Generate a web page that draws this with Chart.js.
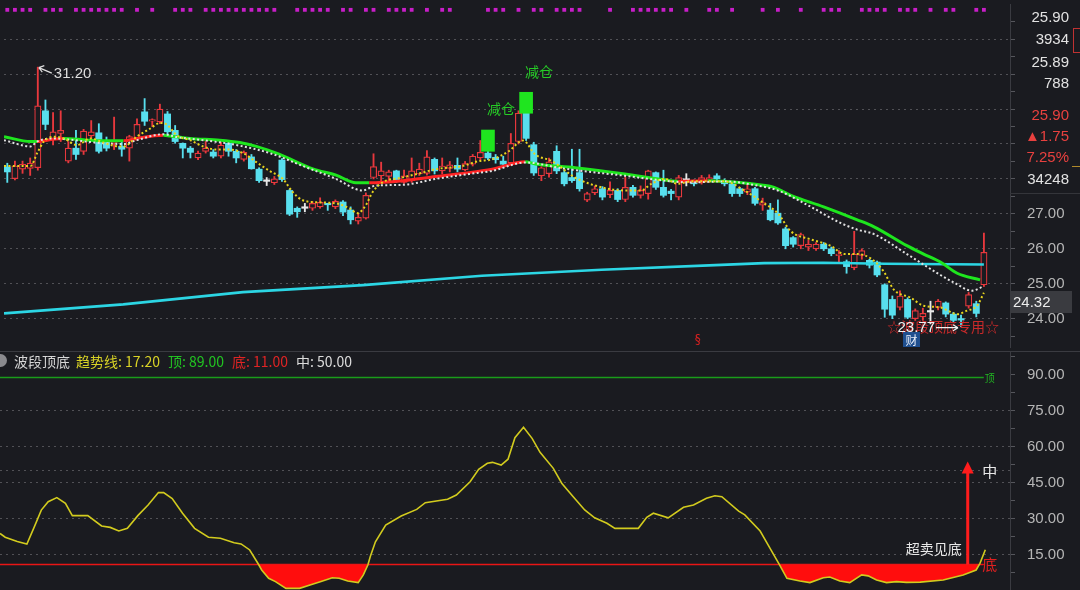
<!DOCTYPE html>
<html lang="zh-CN">
<head>
<meta charset="utf-8">
<title>波段顶底</title>
<script src="https://cdn.jsdelivr.net/npm/chart.js@4.4.1/dist/chart.umd.min.js"></script>
<style>
  html, body { margin:0; padding:0; background:#1a1b20; overflow:hidden; }
  #stage { position:relative; width:1080px; height:590px; overflow:hidden; background:#1a1b20; }
  #cTop { position:absolute; left:0; top:0; }
  #cBot { position:absolute; left:0; top:352px; }
  .t { position:absolute; white-space:nowrap; line-height:16px; }
  .num { font-family:"Liberation Sans", Arial, sans-serif; font-size:15px; }
  .cjk { font-family:"Noto Sans CJK SC", "Noto Sans", sans-serif; font-size:14px; }
</style>
</head>
<body>
<div id="stage">
  <canvas id="cTop" width="1080" height="351"></canvas>
  <canvas id="cBot" width="1080" height="239"></canvas>
  <div style="position:absolute;left:0;top:351px;width:1080px;height:1px;background:#3a3b41"></div>
  <div style="position:absolute;left:1010px;top:193px;width:70px;height:1px;background:#34353a"></div>
  <div style="position:absolute;left:1073px;top:28px;width:14px;height:23px;border:1px solid #c03232"></div>
  <div style="position:absolute;left:1072px;top:166px;width:8px;height:1px;background:#b08a2a"></div>
  <div id="info"></div>
  <div id="lastBox" class="t num" style="left:1010px;top:291px;width:62px;height:22px;line-height:22px;background:#3a3b40;color:#ececec;padding-left:3px;box-sizing:border-box"></div>
  <div id="legend"></div>
</div>
<script>
// ---------------- data ----------------
const openP = [28.34,28.01,28.28,28.30,28.32,29.95,29.11,29.30,28.51,28.88,
 28.79,29.23,29.32,29.07,29.02,28.93,28.88,29.16,29.92,29.65,
 29.63,29.86,29.39,29.02,28.88,28.60,28.79,28.77,28.65,29.02,
 28.79,28.56,28.63,28.28,27.94,27.89,28.54,27.67,27.16,27.17,
 27.16,27.20,27.28,27.20,27.34,27.11,26.79,26.88,28.04,28.09,
 28.07,28.23,27.90,27.95,28.14,28.16,28.56,28.23,28.30,28.39,
 28.26,28.42,28.60,28.74,28.62,28.51,28.46,29.07,29.88,28.98,
 28.09,28.15,28.79,28.18,28.04,28.18,27.39,27.60,27.72,27.55,
 27.67,27.41,27.76,27.53,27.58,28.18,27.76,27.65,27.48,27.97,
 27.90,27.90,27.95,28.09,27.93,27.86,27.72,27.62,27.72,27.25,
 27.11,27.02,26.57,26.32,26.09,26.05,26.00,26.13,26.00,25.80,
 25.63,25.46,25.81,25.67,25.62,24.97,24.55,24.32,24.55,24.00,
 24.05,24.20,24.32,24.45,24.13,23.98,24.36,24.43,24.97];
const highP = [28.45,28.51,28.51,28.60,31.20,30.26,29.90,29.95,29.07,29.39,
 29.42,29.67,29.58,29.20,29.77,29.07,29.25,29.72,30.30,29.72,
 30.14,29.93,29.53,29.03,28.93,28.80,29.07,28.84,29.07,29.07,
 28.84,28.80,28.70,28.32,28.04,28.07,28.58,27.70,27.20,27.30,
 27.35,27.46,27.30,27.40,27.38,27.20,27.02,27.60,28.72,28.48,
 28.25,28.25,28.25,28.60,28.45,28.81,28.60,28.60,28.50,28.60,
 28.50,28.70,29.10,28.80,28.70,28.65,29.30,29.95,29.88,29.05,
 28.35,28.60,28.95,28.25,28.85,28.85,27.62,27.80,27.78,27.92,
 27.72,28.05,27.82,27.80,28.25,28.20,28.25,27.70,28.10,28.15,
 27.97,28.10,28.12,28.15,28.00,27.90,27.76,27.85,27.76,27.45,
 27.30,27.40,26.62,26.35,26.45,26.25,26.18,26.18,26.05,25.95,
 25.68,26.50,26.00,25.70,25.65,25.00,24.65,24.80,24.60,24.28,
 24.30,24.50,24.55,24.48,24.18,24.10,24.75,24.50,26.45];
const lowP = [27.90,27.97,28.16,28.10,28.25,29.41,28.97,29.07,28.46,28.56,
 28.70,29.11,28.74,28.80,28.84,28.65,28.51,29.11,29.53,29.50,
 29.58,29.25,29.02,28.60,28.60,28.55,28.74,28.60,28.60,28.65,
 28.46,28.51,28.28,27.90,27.81,27.84,27.93,26.95,26.90,27.06,
 27.10,27.16,27.10,27.15,26.95,26.71,26.71,26.85,28.00,27.95,
 27.90,27.90,27.87,27.90,28.10,28.11,28.14,28.14,28.20,28.20,
 28.23,28.37,28.55,28.55,28.45,28.35,28.40,29.00,29.10,28.10,
 27.95,28.05,28.15,27.80,27.90,27.65,27.35,27.55,27.40,27.46,
 27.35,27.35,27.48,27.45,27.42,27.70,27.48,27.40,27.40,27.80,
 27.80,27.85,27.90,27.95,27.80,27.50,27.50,27.55,27.25,27.10,
 26.80,26.70,26.00,26.05,26.00,25.95,25.95,25.95,25.80,25.60,
 25.30,25.40,25.70,25.45,25.20,24.04,24.00,24.25,24.00,23.95,
 23.95,23.85,24.25,24.05,23.90,23.77,24.30,24.05,24.92];
const closeP = [28.20,28.37,28.42,28.45,30.09,29.56,29.35,29.39,28.88,28.70,
 29.37,29.35,28.79,28.88,29.11,28.85,29.21,29.56,29.65,29.70,
 30.00,29.35,29.07,28.88,28.76,28.74,28.88,28.65,28.97,28.79,
 28.60,28.76,28.29,27.95,27.93,28.00,27.98,26.99,27.06,27.16,
 27.30,27.33,27.26,27.36,27.05,26.83,26.90,27.53,28.35,28.23,
 28.20,27.95,28.09,28.23,28.28,28.63,28.23,28.37,28.40,28.28,
 28.44,28.65,28.76,28.60,28.55,28.42,29.02,29.88,29.16,28.17,
 28.32,28.49,28.23,27.86,27.95,27.72,27.58,27.72,27.48,27.67,
 27.41,27.76,27.53,27.67,28.23,27.76,27.53,27.58,28.04,27.96,
 27.86,28.04,28.04,28.00,27.86,27.58,27.58,27.72,27.30,27.32,
 26.83,26.74,26.09,26.13,26.41,26.13,26.13,26.00,25.86,25.85,
 25.49,25.85,25.95,25.53,25.25,24.27,24.10,24.65,24.04,24.23,
 24.15,24.19,24.50,24.13,23.95,23.96,24.69,24.15,25.90];

// moving averages: [bar index, price]
const ma5Pts = [[-0.43,28.37],[3.05,28.37],[3.92,28.74],[4.79,29.07],[6.1,29.21],[7.4,29.16],[9.14,28.97],[10.88,29.16],[12.62,29.04],[13.93,28.95],[15.24,28.93],[16.98,29.21],[18.72,29.44],[20.02,29.6],[20.89,29.56],[22.2,29.25],[23.94,29.11],[25.67,28.93],[27.42,28.84],[29.16,28.84],[30.9,28.74],[32.64,28.48],[34.38,28.23],[36.12,28.0],[37.43,27.62],[38.73,27.39],[40.91,27.33],[43.08,27.3],[44.83,27.16],[45.91,27.02],[47.0,27.25],[47.87,27.62],[49.18,27.9],[51.79,28.04],[54.4,28.18],[56.14,28.28],[59.62,28.37],[61.8,28.51],[63.54,28.56],[65.7,28.79],[67.6,29.1],[69.2,28.7],[71.4,28.51],[74.42,28.04],[77.9,27.76],[80.96,27.67],[83.1,27.67],[84.4,27.86],[86.16,28.0],[87.9,27.86],[89.64,27.93],[94.0,27.93],[96.6,27.67],[99.2,27.3],[100.97,27.02],[102.7,26.5],[105.3,26.27],[107.9,26.09],[109.7,25.85],[111.4,25.85],[113.2,25.72],[114.9,25.34],[116.2,24.83],[118.4,24.6],[120.1,24.37],[122.3,24.32],[124.5,24.13],[125.8,24.23],[127.1,24.37],[128.0,24.74]];
const ma10Pts = [[-0.43,29.11],[3.05,28.93],[3.92,29.07],[6.1,29.16],[7.4,29.14],[12.62,29.02],[15.24,29.0],[16.98,29.11],[20.45,29.28],[22.2,29.2],[25.67,29.11],[30.03,28.97],[34.38,28.74],[38.73,28.37],[43.08,28.0],[46.57,27.67],[48.31,27.81],[51.79,27.83],[56.14,28.0],[60.5,28.14],[63.54,28.23],[67.89,28.47],[69.2,28.45],[72.24,28.32],[80.96,28.09],[85.3,27.97],[89.64,27.9],[94.0,27.93],[98.3,27.81],[100.97,27.67],[104.9,27.25],[109.2,26.74],[111.4,26.55],[113.6,26.42],[117.9,25.85],[122.3,25.25],[124.2,25.02],[126.4,24.8],[127.9,24.92]];
const ma20Pts = [[-0.43,29.21],[3.05,29.07],[3.92,29.07],[6.1,29.14],[7.4,29.16],[10.45,29.11],[12.62,29.09],[15.24,29.09],[16.98,29.16],[20.45,29.25],[21.33,29.23],[23.94,29.16],[27.85,29.11],[30.47,29.04],[32.64,28.93],[35.7,28.7],[40.04,28.29],[43.08,28.11],[45.7,27.89],[47.44,27.89],[51.79,27.95],[56.14,28.07],[60.5,28.18],[63.54,28.28],[67.89,28.49],[69.2,28.43],[74.42,28.32],[80.96,28.14],[85.3,28.0],[87.9,27.93],[91.8,27.95],[94.0,27.93],[98.3,27.84],[100.5,27.76],[102.7,27.53],[107.0,27.2],[111.4,26.83],[113.6,26.63],[117.9,26.09],[120.1,25.85],[122.3,25.62],[124.5,25.30],[127.5,25.11]];
const ma250Pts = [[-0.43,24.15],[15.2,24.41],[30.9,24.76],[46.6,24.96],[62.2,25.23],[77.9,25.4],[93.6,25.54],[99.2,25.59],[107,25.6],[115,25.57],[128,25.55]];

const signalDots = [0,1,2,3,5,6,7,9,10,11,12,13,14,15,17,19,22,23,24,26,27,28,29,30,31,32,33,34,35,38,39,40,41,42,44,45,47,48,50,51,52,53,55,57,58,63,64,65,67,69,70,72,73,74,75,79,82,83,84,85,86,87,89,92,93,95,99,101,104,107,108,109,112,113,114,115,117,118,119,121,123,124,127,128];
const signalLevel = 32.84;
const cutBoxes = [[63, 28.79, 29.40], [68, 29.88, 30.48]];   // [bar, bottom, top]
const cutText = '减仓';
const priceTicks = [24, 25, 26, 27];
const infoRows = [['25.90','#e2e2e2'],['3934','#e2e2e2'],['25.89','#e2e2e2'],['788','#e2e2e2'],['25.90','#e8413f'],['▲1.75','#e8413f'],['7.25%','#e8413f'],['34248','#e2e2e2']];
const lastMarker = '24.32';

// oscillator 波段顶底: [bar index, value]
const oscPts = [[-0.43,24.0],[0.25,22.4],[1.82,20.6],[3.08,19.6],[4.06,26.8],[4.96,33.7],[5.86,37.2],[6.99,38.9],[8.11,36.5],[9.01,31.4],[11.03,31.4],[12.83,27.1],[13.96,26.5],[15.08,25.0],[16.2,26.1],[17.56,31.4],[18.9,35.8],[20.25,41.0],[20.93,41.0],[22.05,38.5],[23.4,32.4],[24.97,26.1],[26.78,22.4],[28.34,22.0],[30.14,20.1],[31.04,19.6],[32.17,17.1],[33.29,11.25],[33.73,8.75],[34.64,5.3],[35.53,3.9],[36.9,1.1],[38.68,1.1],[40.04,2.5],[41.38,3.9],[42.95,5.5],[43.85,5.3],[44.97,4.2],[46.33,3.5],[47.0,6.7],[47.59,10.8],[47.9,14.3],[48.58,20.5],[49.92,27.5],[51.94,31.25],[53.97,34.0],[55.09,36.8],[58.0,38.2],[59.14,40.0],[60.94,45.5],[62.06,50.7],[63.19,53.2],[63.86,53.6],[64.99,52.5],[65.89,54.9],[66.79,63.9],[67.91,68.2],[69.03,63.6],[70.07,57.8],[71.8,51.1],[72.9,44.9],[74.4,39.3],[75.9,33.75],[77.2,30.5],[78.8,28.2],[79.85,26.1],[82.9,26.1],[84.0,30.7],[84.86,32.4],[86.8,30.5],[88.8,34.9],[90.1,35.8],[91.8,38.6],[92.9,39.7],[93.8,39.3],[96.0,33.3],[96.8,31.7],[98.8,25.0],[100.1,17.8],[101.3,11.1],[102.3,5.3],[104.0,4.2],[105.3,3.5],[107.05,5.5],[107.9,5.8],[109.2,4.2],[110.5,3.5],[112.06,6.7],[112.9,6.3],[114.0,4.6],[115.3,3.5],[116.6,3.9],[117.9,3.6],[119.7,3.7],[122.7,4.6],[125.3,6.7],[127.0,8.75],[127.5,11.5],[128.2,17.2]];
const topLine = 89, bottomLine = 11, midLine = 50, trendNow = 17.20;
const oscTicks = [15, 30, 45, 60, 75, 90];

// ---------------- styling ----------------
const BG = '#1a1b20', UP = '#e8383d', DOWN = '#58dfee', DOJI = '#e8e8e8';
const MA_UP = '#ff2424', MA_DN = '#1ee61e';
const X_MIN = -0.431, X_MAX = 131.42;
const P_MIN = 23.189, P_MAX = 33.007;
const GRID = 'rgba(118,118,124,0.6)';
const kind = i => Math.abs(closeP[i] - openP[i]) < 0.015 ? 'doji' : (closeP[i] > openP[i] ? 'up' : 'down');
const colorOf = i => ({up: UP, down: DOWN, doji: DOJI})[kind(i)];
const pts = arr => arr.map(([x, y]) => ({x, y}));

// info panel & legend (HTML text)
const info = document.getElementById('info');
const infoTops = [9, 31, 54, 75, 107, 128, 149, 171];
infoRows.forEach(([txt, col], k) => {
  const d = document.createElement('div');
  d.className = 't num'; d.textContent = txt;
  d.style.cssText += `right:11px;top:${infoTops[k]}px;color:${col}`;
  info.appendChild(d);
});
document.getElementById('lastBox').textContent = lastMarker;
const legend = document.getElementById('legend');
const legItems = [
  ['波段顶底', '#d6d6d6', 14],
  ['趋势线: ' + trendNow.toFixed(2), '#d8d226', 76],
  ['顶: ' + topLine.toFixed(2), '#22c422', 168],
  ['底: ' + bottomLine.toFixed(2), '#e02424', 232],
  ['中: ' + midLine.toFixed(2), '#dcdcdc', 296]
];
const dot = document.createElement('div');
dot.style.cssText = 'position:absolute;left:-6px;top:354px;width:13px;height:13px;border-radius:50%;background:#8a8a8e';
legend.appendChild(dot);
legItems.forEach(([txt, col, left]) => {
  const d = document.createElement('div');
  d.className = 't cjk'; d.textContent = txt;
  d.style.cssText += `left:${left}px;top:352px;color:${col};line-height:18px`;
  legend.appendChild(d);
});

// ---------------- annotation plugins ----------------
const topAnno = {
  id: 'topAnno',
  afterDatasetsDraw(chart) {
    const {ctx, chartArea, scales: {x, y}} = chart;
    const X = v => x.getPixelForValue(v), Y = v => y.getPixelForValue(v);
    let hi = 0, lo = 0;
    highP.forEach((v, i) => { if (v > highP[hi]) hi = i; });
    lowP.forEach((v, i) => { if (v < lowP[lo]) lo = i; });
    ctx.save();
    const hx = X(hi), hy = Y(highP[hi]);
    ctx.strokeStyle = '#dedede'; ctx.fillStyle = '#dedede'; ctx.lineWidth = 1.2;
    ctx.beginPath();
    ctx.moveTo(hx + 14, hy + 6); ctx.lineTo(hx + 1, hy + 0.5);
    ctx.moveTo(hx + 1, hy + 0.5); ctx.lineTo(hx + 6.5, hy - 1.5);
    ctx.moveTo(hx + 1, hy + 0.5); ctx.lineTo(hx + 4.5, hy + 5);
    ctx.stroke();
    ctx.font = '15px "Liberation Sans", Arial, sans-serif';
    ctx.textAlign = 'left'; ctx.textBaseline = 'middle';
    ctx.fillText(highP[hi].toFixed(2), hx + 16, hy + 7);
    ctx.font = '14px "Noto Sans CJK SC", sans-serif';
    ctx.fillStyle = '#26cc26'; ctx.textAlign = 'center';
    cutBoxes.forEach(([i, b, t]) => ctx.fillText(cutText, X(i) + 13, Y(t) - 21));
    const lx = X(lo), ly = Y(lowP[lo]);
    ctx.fillStyle = '#c82a2a'; ctx.font = '14px "Noto Sans CJK SC", sans-serif';
    ctx.fillText('☆波段顶底专用☆', lx - 18, ly);
    ctx.fillStyle = '#f2f2f2'; ctx.textAlign = 'right';
    ctx.font = '15px "Liberation Sans", Arial, sans-serif';
    ctx.fillText(lowP[lo].toFixed(2), lx - 26, ly + 1);
    ctx.strokeStyle = '#f2f2f2'; ctx.lineWidth = 1.3;
    ctx.beginPath();
    ctx.moveTo(lx - 25, ly + 1); ctx.lineTo(lx - 3, ly + 1);
    ctx.moveTo(lx - 3, ly + 1); ctx.lineTo(lx - 8, ly - 2);
    ctx.moveTo(lx - 3, ly + 1); ctx.lineTo(lx - 8, ly + 4);
    ctx.stroke();
    ctx.fillStyle = '#1f4f8f';
    ctx.fillRect(lx - 58, chartArea.bottom - 15, 17, 15);
    ctx.fillStyle = '#e8eef8'; ctx.textAlign = 'center';
    ctx.font = '12px "Noto Sans CJK SC", sans-serif';
    ctx.fillText('财', lx - 49.5, chartArea.bottom - 7);
    ctx.fillStyle = '#d42020'; ctx.font = '12px "DejaVu Sans", sans-serif';
    ctx.fillText('§', X(90.5), chartArea.bottom - 7);
    ctx.restore();
  }
};

const botAnno = {
  id: 'botAnno',
  afterDatasetsDraw(chart) {
    const {ctx, scales: {x, y}} = chart;
    const X = v => x.getPixelForValue(v), Y = v => y.getPixelForValue(v);
    const ax = X(125.9), yTip = Y(54);
    ctx.save();
    ctx.strokeStyle = '#ff1c1c'; ctx.fillStyle = '#ff1c1c'; ctx.lineWidth = 3;
    ctx.beginPath(); ctx.moveTo(ax, Y(bottomLine)); ctx.lineTo(ax, yTip + 8); ctx.stroke();
    ctx.beginPath(); ctx.moveTo(ax, yTip); ctx.lineTo(ax - 6, yTip + 12); ctx.lineTo(ax + 6, yTip + 12); ctx.closePath(); ctx.fill();
    ctx.textAlign = 'center'; ctx.textBaseline = 'middle';
    ctx.font = '15px "Noto Sans CJK SC", sans-serif';
    ctx.fillStyle = '#e8e8e8'; ctx.fillText('中', ax + 22, Y(midLine));
    ctx.font = '14px "Noto Sans CJK SC", sans-serif';
    ctx.fillText('超卖见底', ax - 34, Y(17.7));
    ctx.font = '15px "Noto Sans CJK SC", sans-serif';
    ctx.fillStyle = '#e02020'; ctx.fillText('底', ax + 22, Y(bottomLine));
    ctx.font = '10px "Noto Sans CJK SC", sans-serif';
    ctx.fillStyle = '#22b822'; ctx.fillText('顶', ax + 22, Y(topLine) + 1);
    ctx.restore();
  }
};

// ---------------- charts ----------------
const xScale = () => ({type: 'linear', min: X_MIN, max: X_MAX, display: false, offset: false});
const idx = closeP.map((_, i) => i);

new Chart(document.getElementById('cTop'), {
  type: 'line',
  data: {
    datasets: [
      { type: 'bar', order: 20, grouped: false, barThickness: 1.2,
        data: idx.map(i => ({x: i, y: [lowP[i], highP[i]]})),
        backgroundColor: c => colorOf(c.dataIndex), borderWidth: 0 },
      { type: 'bar', order: 19, grouped: false, barThickness: 6.3, minBarLength: 1.5, borderSkipped: false,
        data: idx.map(i => ({x: i, y: [Math.min(openP[i], closeP[i]), Math.max(openP[i], closeP[i])]})),
        backgroundColor: c => kind(c.dataIndex) === 'up' ? BG : colorOf(c.dataIndex),
        borderColor: c => colorOf(c.dataIndex),
        borderWidth: c => kind(c.dataIndex) === 'up' ? 1.2 : 0 },
      { order: 6, data: pts(ma250Pts), borderColor: '#2cd6e4', borderWidth: 2.6, pointRadius: 0, tension: 0 },
      { order: 5, data: pts(ma20Pts), borderWidth: 3, pointRadius: 0, cubicInterpolationMode: 'monotone',
        borderColor: MA_DN,
        segment: { borderColor: c => c.p1.parsed.y > c.p0.parsed.y ? MA_UP : MA_DN } },
      { order: 4, data: pts(ma10Pts), borderColor: '#e2e2e2', borderWidth: 2, borderDash: [2, 2.4],
        pointRadius: 0, cubicInterpolationMode: 'monotone' },
      { order: 3, data: pts(ma5Pts), borderColor: '#e8d41e', borderWidth: 2, borderDash: [2, 2.4],
        pointRadius: 0, cubicInterpolationMode: 'monotone' },
      { type: 'bar', order: 2, grouped: false, barThickness: 13,
        data: cutBoxes.map(([i, b, t]) => ({x: i, y: [b, t]})),
        backgroundColor: '#1fe51f', borderWidth: 0 },
      { order: 1, showLine: false, data: signalDots.map(i => ({x: i, y: signalLevel})),
        pointStyle: 'rect', pointRadius: 2.7, pointBorderWidth: 0, pointBackgroundColor: '#c81ec8' }
    ]
  },
  options: {
    responsive: false, animation: false, devicePixelRatio: 1,
    layout: {padding: 0},
    plugins: {legend: {display: false}, tooltip: {enabled: false}},
    scales: {
      x: xScale(),
      y: {
        position: 'right', min: P_MIN, max: P_MAX,
        afterBuildTicks: s => { const t = []; for (let v = 23.5; v <= 32.5; v += 0.5) t.push({value: v}); s.ticks = t; },
        afterFit: s => { s.width = 70; s.paddingTop = 0; s.paddingBottom = 0; },
        ticks: { autoSkip: false, padding: 12, color: '#b6b6b6',
          font: {family: '"Liberation Sans", Arial, sans-serif', size: 15},
          callback: v => priceTicks.includes(v) ? v.toFixed(2) : '' },
        grid: { color: c => Number.isInteger(c.tick.value) ? GRID : 'rgba(0,0,0,0)',
          tickColor: '#55565c', tickLength: 5, tickBorderDash: [], lineWidth: 1 },
        border: { display: true, color: '#3a3b41', dash: [2, 4] }
      }
    }
  },
  plugins: [topAnno]
});

new Chart(document.getElementById('cBot'), {
  type: 'line',
  data: {
    datasets: [
      { order: 3, data: [{x: X_MIN, y: topLine}, {x: 128, y: topLine}], borderColor: '#1a9c1a', borderWidth: 1.5, pointRadius: 0 },
      { order: 2, data: [{x: X_MIN, y: bottomLine}, {x: 128, y: bottomLine}], borderColor: '#e21818', borderWidth: 1.5, pointRadius: 0 },
      { order: 1, data: pts(oscPts), borderColor: '#d2cb1e', borderWidth: 1.6, pointRadius: 0, tension: 0,
        fill: {target: {value: bottomLine}, above: 'rgba(0,0,0,0)', below: '#ff0d0d'} }
    ]
  },
  options: {
    responsive: false, animation: false, devicePixelRatio: 1,
    layout: {padding: 0},
    plugins: {legend: {display: false}, tooltip: {enabled: false}},
    scales: {
      x: xScale(),
      y: {
        position: 'right', min: 0, max: 99.58,
        afterBuildTicks: s => { const t = [{value: midLine}]; for (let v = 7.5; v <= 97.5; v += 7.5) t.push({value: v}); t.sort((a, b) => a.value - b.value); s.ticks = t; },
        afterFit: s => { s.width = 70; s.paddingTop = 0; s.paddingBottom = 0; },
        ticks: { autoSkip: false, padding: 12, color: '#b6b6b6',
          font: {family: '"Liberation Sans", Arial, sans-serif', size: 15},
          callback: v => oscTicks.includes(v) ? v.toFixed(2) : '' },
        grid: { color: c => ((c.tick.value % 15 === 0 && c.tick.value < 90) || c.tick.value === midLine) ? GRID : 'rgba(0,0,0,0)',
          tickColor: c => c.tick.value === midLine ? 'rgba(0,0,0,0)' : '#55565c', tickLength: 5, tickBorderDash: [], lineWidth: 1 },
        border: { display: true, color: '#3a3b41', dash: [2, 4] }
      }
    }
  },
  plugins: [botAnno]
});
</script>
</body>
</html>
